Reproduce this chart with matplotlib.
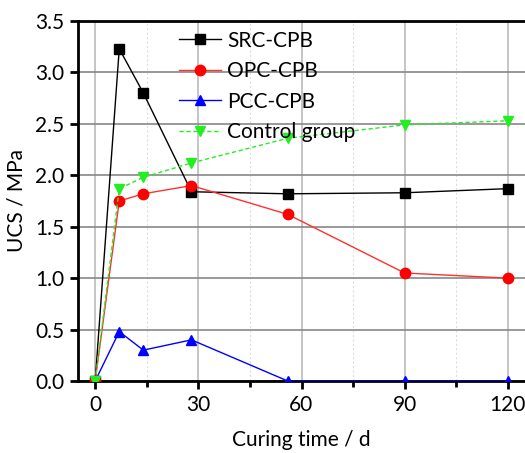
import matplotlib
matplotlib.use("Agg")
import matplotlib.pyplot as plt
from matplotlib.ticker import MultipleLocator

days = [0, 7, 14, 28, 56, 90, 120]
src = [0.0, 3.23, 2.80, 1.84, 1.82, 1.83, 1.87]
opc = [0.0, 1.75, 1.82, 1.90, 1.62, 1.05, 1.00]
pcc = [0.0, 0.48, 0.30, 0.40, 0.0, 0.0, 0.0]
ctrl = [0.0, 1.87, 1.98, 2.12, 2.36, 2.49, 2.53]

plt.rcParams['font.family'] = ['Lato', 'DejaVu Sans']

fig = plt.figure(figsize=(5.25, 4.53), dpi=100)
ax = fig.add_axes([78/525, 72/453, 447/525, 360/453])

ax.plot(days, src, color='black', lw=1, marker='s', ms=7, label='SRC-CPB', zorder=4)
ax.plot(days, opc, color='#ff3030', lw=1, marker='o', ms=7.5, mfc='red', mec='red', label='OPC-CPB', zorder=4)
ax.plot(days, pcc, color='blue', lw=1, marker='^', ms=7.5, label='PCC-CPB', zorder=4)
ax.plot(days, ctrl, color='#22ee22', lw=1, ls=(0, (3, 2)), marker='v', ms=7.5, mfc='#22ee22', mec='#22ee22', label='Control group', zorder=4)

ax.set_xlim(-5, 125)
ax.set_ylim(0, 3.5)
ax.xaxis.set_major_locator(MultipleLocator(30))
ax.xaxis.set_minor_locator(MultipleLocator(15))
ax.yaxis.set_major_locator(MultipleLocator(0.5))
ax.yaxis.set_major_formatter(matplotlib.ticker.FormatStrFormatter('%.1f'))

ax.grid(True, which='major', axis='y', color='#888888', lw=1.2)
ax.grid(True, which='major', axis='x', color='#bbbbbb', lw=1.2)
ax.grid(True, which='minor', axis='x', color='#dddddd', lw=0.8, ls=(0, (2, 2)))

for s in ['left', 'bottom', 'top']:
    ax.spines[s].set_linewidth(2)
ax.spines['right'].set_visible(False)

ax.tick_params(axis='both', which='major', direction='out', length=6, width=2, labelsize=15, pad=4)
ax.tick_params(axis='x', which='minor', direction='out', length=4, width=2)

ax.set_xlabel('Curing time / d', fontsize=15, labelpad=11)
ax.set_ylabel('UCS / MPa', fontsize=15, labelpad=6)

leg = ax.legend(loc='upper left', bbox_to_anchor=(0.226, 0.973), frameon=False, fontsize=15,
                handlelength=2.0, labelspacing=0.5, handletextpad=0.3,
                borderaxespad=0, borderpad=0)

fig.savefig('out.png', dpi=100)
